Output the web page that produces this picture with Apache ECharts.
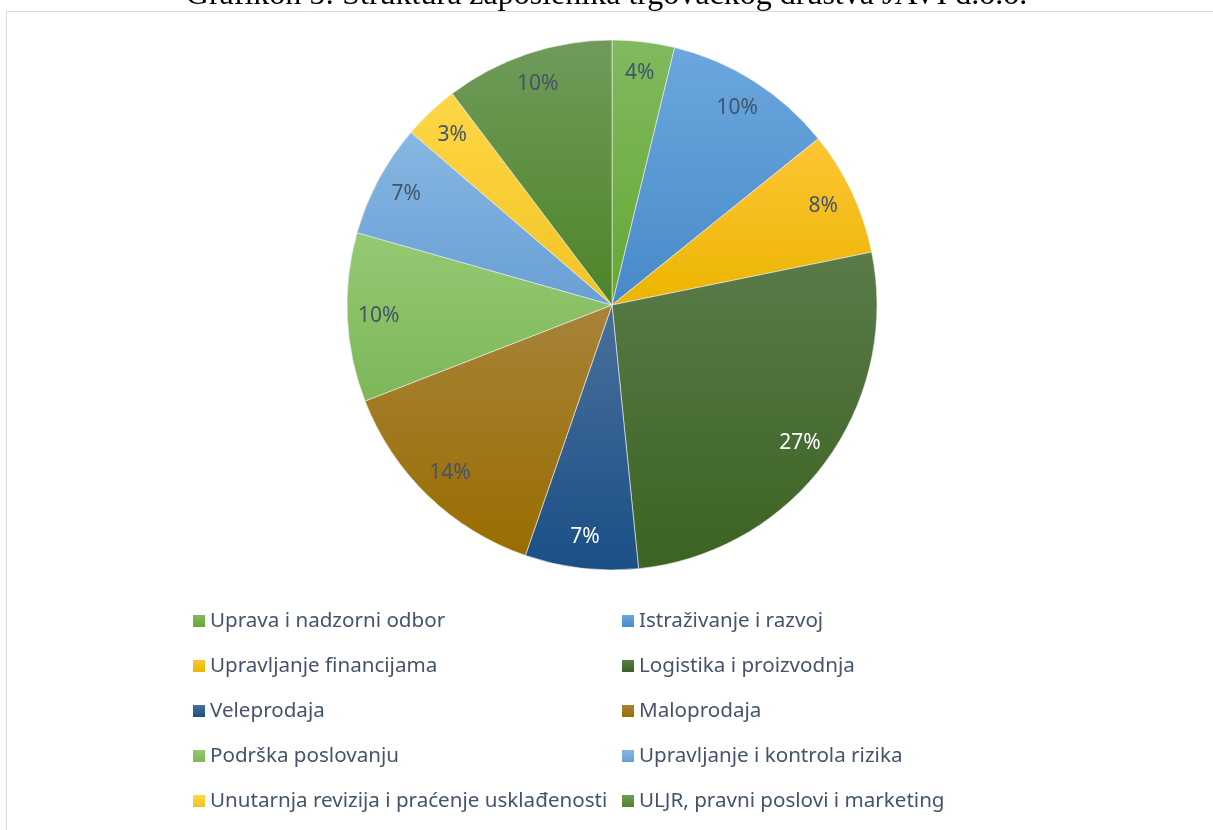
<!DOCTYPE html>
<html>
<head>
<meta charset="utf-8">
<script src="https://cdn.jsdelivr.net/npm/echarts@6/dist/echarts.min.js"></script>
<style>
html, body { margin: 0; padding: 0; background: #fff; }
#chart { width: 1213px; height: 830px; }
</style>
</head>
<body>
<div id="chart"></div>
<script>
// kategorije i udjeli (%)
var categories = [
    'Uprava i nadzorni odbor',
    'Istraživanje i razvoj',
    'Upravljanje financijama',
    'Logistika i proizvodnja',
    'Veleprodaja',
    'Maloprodaja',
    'Podrška poslovanju',
    'Upravljanje i kontrola rizika',
    'Unutarnja revizija i praćenje usklađenosti',
    'ULJR, pravni poslovi i marketing'
];
var shares = [3.8, 10.4, 7.6, 26.6, 6.9, 13.8, 10.3, 6.9, 3.4, 10.3];

// boje odsječaka: [gore, dolje]
var sliceColors = [
    ['#80ba5f', '#66a834'],
    ['#6ba7de', '#478ac9'],
    ['#ffc535', '#ebb500'],
    ['#5a7b49', '#3b6321'],
    ['#4a709c', '#1a4f86'],
    ['#a8833a', '#996d00'],
    ['#95c973', '#7db758'],
    ['#87b7e3', '#689fd4'],
    ['#ffd645', '#f1c424'],
    ['#709b5b', '#4d8427']
];
var whiteLabels = [3, 4];

var textColor = '#44546A';
var chart = echarts.init(document.getElementById('chart'));

function grad(c) {
    return new echarts.graphic.LinearGradient(0, 0, 0, 1, [
        { offset: 0, color: c[0] },
        { offset: 1, color: c[1] }
    ]);
}

var pieData = categories.map(function (name, i) {
    return { name: name, value: shares[i], itemStyle: { color: grad(sliceColors[i]) } };
});
var labelData = categories.map(function (name, i) {
    return {
        name: name,
        value: shares[i],
        label: { color: whiteLabels.indexOf(i) >= 0 ? '#ffffff' : textColor }
    };
});

var leftNames = categories.filter(function (n, i) { return i % 2 === 0; });
var rightNames = categories.filter(function (n, i) { return i % 2 === 1; });

var legendBase = {
    orient: 'vertical',
    top: 610,
    padding: 0,
    itemWidth: 12,
    itemHeight: 12,
    itemGap: 23,
    icon: 'rect',
    selectedMode: false,
    itemStyle: { borderWidth: 0 },
    textStyle: {
        fontFamily: 'Noto Sans',
        fontSize: 20.6,
        lineHeight: 22,
        color: textColor,
        padding: [0, 0, 0, 0]
    }
};

var option = {
    backgroundColor: '#ffffff',
    animation: false,
    title: {
        text: 'Grafikon 5: Struktura zaposlenika trgovačkog društva JAVI d.o.o.',
        left: 'center',
        top: -25,
        textStyle: {
            fontFamily: 'Liberation Serif',
            fontWeight: 'normal',
            fontSize: 32,
            color: '#000'
        }
    },
    graphic: [{
        type: 'rect',
        shape: { x: 6.5, y: 11.5, width: 1400, height: 1000 },
        style: { fill: 'none', stroke: '#d9d9d9', lineWidth: 1 },
        silent: true
    }],
    legend: [
        Object.assign({}, legendBase, { left: 193, data: leftNames }),
        Object.assign({}, legendBase, { left: 622, data: rightNames })
    ],
    series: [{
        type: 'pie',
        center: [612, 305],
        radius: [0, 265],
        startAngle: 90,
        clockwise: true,
        label: { show: false },
        labelLine: { show: false },
        itemStyle: { borderColor: '#f0f0f0', borderWidth: 0.6 },
        emphasis: { disabled: true },
        data: pieData
    }, {
        // samo oznake postotaka
        type: 'pie',
        center: [612, 305],
        radius: [196, 265],
        startAngle: 90,
        clockwise: true,
        silent: true,
        itemStyle: { color: 'rgba(0,0,0,0)' },
        emphasis: { disabled: true },
        labelLine: { show: false },
        label: {
            show: true,
            position: 'inside',
            fontFamily: 'Noto Sans',
            fontSize: 21,
            formatter: function (p) { return Math.round(p.value) + '%'; }
        },
        data: labelData
    }]
};
chart.setOption(option);
</script>
</body>
</html>
